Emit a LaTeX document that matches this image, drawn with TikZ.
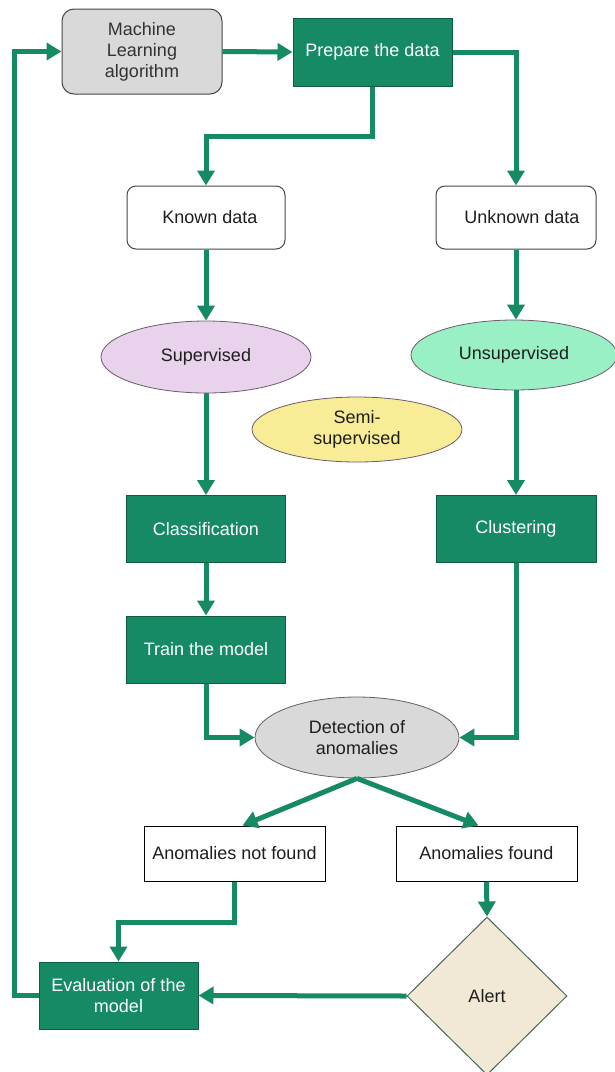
\documentclass[tikz,border=0pt]{standalone}
\usepackage{fontspec}
\setmainfont{Liberation Sans}
\usetikzlibrary{arrows.meta,shapes.geometric}
\definecolor{flowgreen}{RGB}{21,138,100}
\definecolor{greenedge}{RGB}{14,92,66}
\definecolor{boxgray}{RGB}{217,217,217}
\definecolor{edgegray}{RGB}{70,70,70}
\definecolor{lilac}{RGB}{232,210,236}
\definecolor{mint}{RGB}{153,240,196}
\definecolor{paleyellow}{RGB}{248,236,150}
\definecolor{beige}{RGB}{242,232,214}
\definecolor{diamondedge}{RGB}{70,105,88}
\definecolor{ellipseedge}{RGB}{110,90,110}
\definecolor{textdark}{RGB}{30,30,30}
\begin{document}
\begin{tikzpicture}[x=1pt,y=-1pt,
  every node/.style={font=\fontsize{18}{21}\selectfont, align=center, inner sep=0pt, text=textdark},
  greenbox/.style={rectangle, draw=greenedge, line width=1pt, fill=flowgreen, text=white,
    minimum width=159pt, minimum height=67pt},
  softbox/.style={rectangle, rounded corners=9pt, draw=edgegray, line width=1pt, fill=white,
    minimum width=158pt, minimum height=63pt},
  plainbox/.style={rectangle, draw=black, line width=1pt, fill=white,
    minimum width=181pt, minimum height=55pt},
  oval/.style={ellipse, draw=ellipseedge, line width=0.8pt},
  flow/.style={draw=flowgreen, line width=5pt,
    -{Triangle[length=15pt,width=17pt]}}
]
\useasboundingbox (0,0) rectangle (614,1072);

% nodes
\node[rectangle, rounded corners=12pt, draw=edgegray, line width=1pt, fill=boxgray,
      minimum width=160pt, minimum height=85pt, text={rgb,255:red,50;green,50;blue,50}]
      (ml) at (142,51.5) {Machine\\Learning\\algorithm};
\node[greenbox, minimum height=68pt] (prep) at (372.5,52) {Prepare the data};
\node[softbox] (known) at (206,217.5) {\hspace*{8pt}Known data};
\node[softbox, minimum width=160pt] (unknown) at (516,217.5) {\hspace*{12pt}Unknown data};
\node[oval, fill=lilac, minimum width=210pt, minimum height=72pt] (sup) at (206,357) {Supervised};
\node[oval, fill=mint, minimum width=206pt, minimum height=70pt] (unsup) at (514,355) {Unsupervised};
\node[oval, fill=paleyellow, minimum width=210pt, minimum height=65pt] (semi) at (357,429.5) {Semi-\\supervised};
\node[greenbox] (class) at (206,529) {Classification};
\node[greenbox, minimum width=160pt] (clust) at (516,529) {Clustering};
\node[greenbox] (train) at (206,649.5) {Train the model};
\node[oval, fill=boxgray, minimum width=204pt, minimum height=81pt] (detect) at (357,737.5) {Detection of\\anomalies};
\node[plainbox] (nf) at (234.5,853.5) {Anomalies not found};
\node[plainbox] (found) at (486.5,853.5) {Anomalies found};
\node[greenbox] (eval) at (118.5,995.5) {Evaluation of the\\model};
\node[diamond, draw=diamondedge, line width=1pt, fill=beige,
      minimum width=160pt, minimum height=158pt] (alert) at (487,996) {Alert};

% connectors
\draw[flow] (eval.west) -- ++(-24,0) |- (ml.west);
\draw[flow] (ml.east) -- (prep.west);
\draw[flow] (prep.south) -- ++(0,50) -| (known.north);
\draw[flow] (prep.east) -| (unknown.north);
\draw[flow] (known.south) -- (sup.north);
\draw[flow] (unknown.south) -- (unknown.south |- unsup.north);
\draw[flow] (sup.south) -- (class.north);
\draw[flow] (unknown.south |- unsup.south) -- (clust.north);
\draw[flow] (class.south) -- (train.north);
\draw[flow] (train.south) |- (detect.west);
\draw[flow] (clust.south) |- (detect.east);
\draw[flow] (detect.south) -- ([xshift=8pt]nf.north);
\draw[flow] (detect.south) -- ([xshift=-8pt]found.north);
\draw[flow] (found.south) -- (alert.north);
\draw[flow] (nf.south) -- ++(0,41) -| (eval.north);
\draw[flow] (alert.west) -- (eval.east);
\end{tikzpicture}
\end{document}
